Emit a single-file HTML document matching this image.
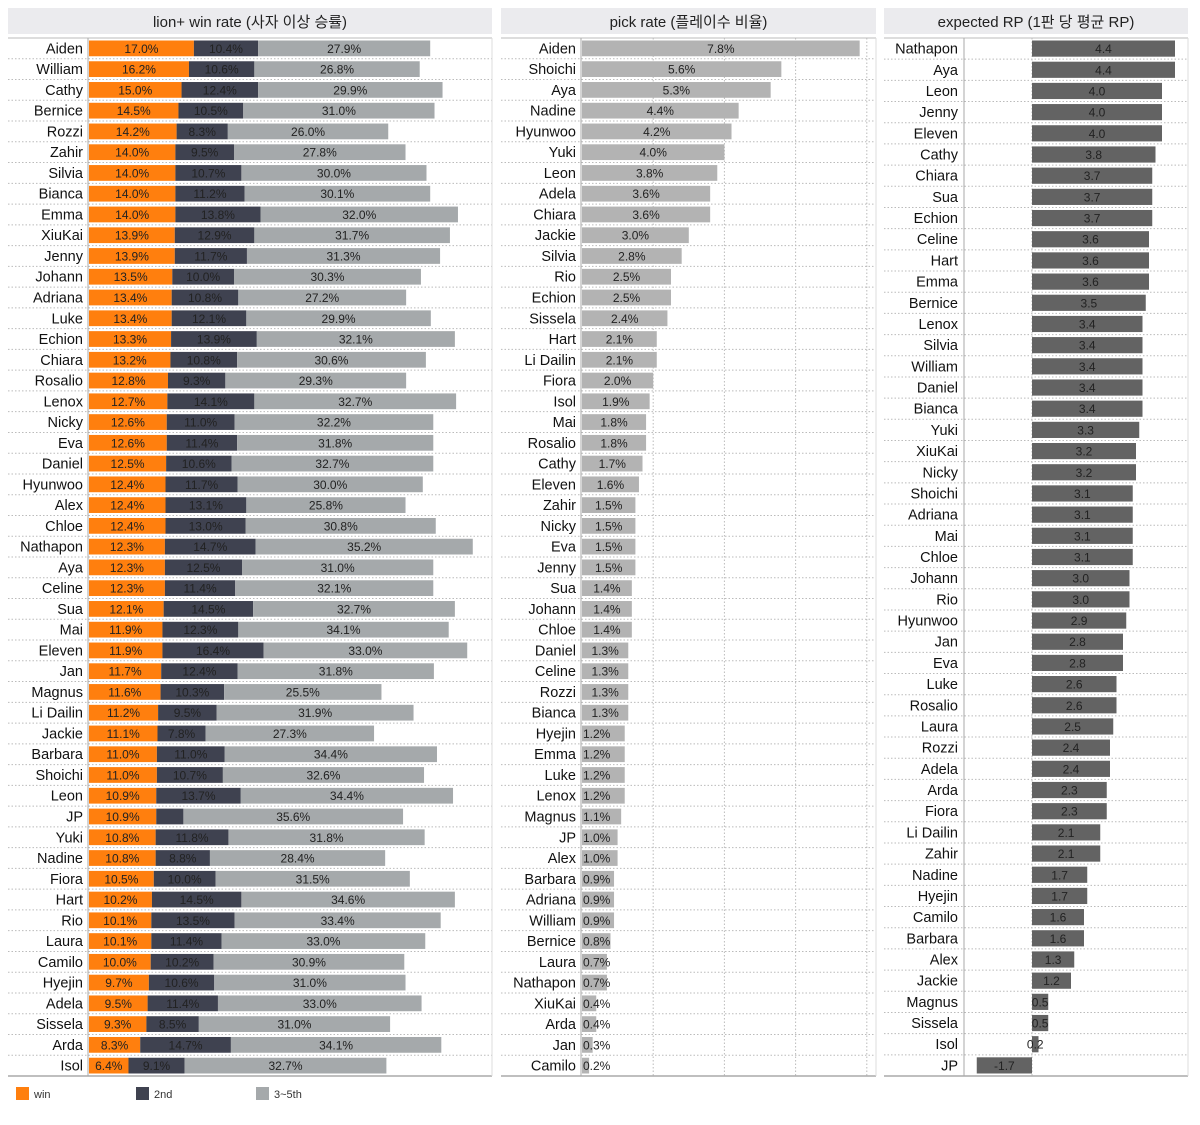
<!DOCTYPE html>
<html><head><meta charset="utf-8"><style>
body{margin:0;background:#fff;}
svg text{font-family:"Liberation Sans","Noto Sans CJK KR",sans-serif;}
</style></head><body>
<svg id="c" width="1200" height="1120" xmlns="http://www.w3.org/2000/svg"></svg>
<script>
const names1=["Aiden","William","Cathy","Bernice","Rozzi","Zahir","Silvia","Bianca","Emma","XiuKai","Jenny","Johann","Adriana","Luke","Echion","Chiara","Rosalio","Lenox","Nicky","Eva","Daniel","Hyunwoo","Alex","Chloe","Nathapon","Aya","Celine","Sua","Mai","Eleven","Jan","Magnus","Li Dailin","Jackie","Barbara","Shoichi","Leon","JP","Yuki","Nadine","Fiora","Hart","Rio","Laura","Camilo","Hyejin","Adela","Sissela","Arda","Isol"];
const winVals=[17.0,16.2,15.0,14.5,14.2,14.0,14.0,14.0,14.0,13.9,13.9,13.5,13.4,13.4,13.3,13.2,12.8,12.7,12.6,12.6,12.5,12.4,12.4,12.4,12.3,12.3,12.3,12.1,11.9,11.9,11.7,11.6,11.2,11.1,11.0,11.0,10.9,10.9,10.8,10.8,10.5,10.2,10.1,10.1,10.0,9.7,9.5,9.3,8.3,6.4];
const secondVals=[10.4,10.6,12.4,10.5,8.3,9.5,10.7,11.2,13.8,12.9,11.7,10.0,10.8,12.1,13.9,10.8,9.3,14.1,11.0,11.4,10.6,11.7,13.1,13.0,14.7,12.5,11.4,14.5,12.3,16.4,12.4,10.3,9.5,7.8,11.0,10.7,13.7,4.4,11.8,8.8,10.0,14.5,13.5,11.4,10.2,10.6,11.4,8.5,14.7,9.1];
const topVals=[27.9,26.8,29.9,31.0,26.0,27.8,30.0,30.1,32.0,31.7,31.3,30.3,27.2,29.9,32.1,30.6,29.3,32.7,32.2,31.8,32.7,30.0,25.8,30.8,35.2,31.0,32.1,32.7,34.1,33.0,31.8,25.5,31.9,27.3,34.4,32.6,34.4,35.6,31.8,28.4,31.5,34.6,33.4,33.0,30.9,31.0,33.0,31.0,34.1,32.7];
const names2=["Aiden","Shoichi","Aya","Nadine","Hyunwoo","Yuki","Leon","Adela","Chiara","Jackie","Silvia","Rio","Echion","Sissela","Hart","Li Dailin","Fiora","Isol","Mai","Rosalio","Cathy","Eleven","Zahir","Nicky","Eva","Jenny","Sua","Johann","Chloe","Daniel","Celine","Rozzi","Bianca","Hyejin","Emma","Luke","Lenox","Magnus","JP","Alex","Barbara","Adriana","William","Bernice","Laura","Nathapon","XiuKai","Arda","Jan","Camilo"];
const pickVals=[7.8,5.6,5.3,4.4,4.2,4.0,3.8,3.6,3.6,3.0,2.8,2.5,2.5,2.4,2.1,2.1,2.0,1.9,1.8,1.8,1.7,1.6,1.5,1.5,1.5,1.5,1.4,1.4,1.4,1.3,1.3,1.3,1.3,1.2,1.2,1.2,1.2,1.1,1.0,1.0,0.9,0.9,0.9,0.8,0.7,0.7,0.4,0.4,0.3,0.2];
const pickTicks=[2,4,6,8];
const names3=["Nathapon","Aya","Leon","Jenny","Eleven","Cathy","Chiara","Sua","Echion","Celine","Hart","Emma","Bernice","Lenox","Silvia","William","Daniel","Bianca","Yuki","XiuKai","Nicky","Shoichi","Adriana","Mai","Chloe","Johann","Rio","Hyunwoo","Jan","Eva","Luke","Rosalio","Laura","Rozzi","Adela","Arda","Fiora","Li Dailin","Zahir","Nadine","Hyejin","Camilo","Barbara","Alex","Jackie","Magnus","Sissela","Isol","JP"];
const rpVals=[4.4,4.4,4.0,4.0,4.0,3.8,3.7,3.7,3.7,3.6,3.6,3.6,3.5,3.4,3.4,3.4,3.4,3.4,3.3,3.2,3.2,3.1,3.1,3.1,3.1,3.0,3.0,2.9,2.8,2.8,2.6,2.6,2.5,2.4,2.4,2.3,2.3,2.1,2.1,1.7,1.7,1.6,1.6,1.3,1.2,0.5,0.5,0.2,-1.7];

const svg=document.getElementById('c');const NS='http://www.w3.org/2000/svg';
function mk(t,a,p){const e=document.createElementNS(NS,t);for(const k in a)e.setAttribute(k,a[k]);(p||svg).appendChild(e);return e;}
const top0=38,bottom0=1076;
function panel(x0,x1,axisX,title,name,n){
  const g=mk('g',{});
  
  
  const h=mk('rect',{x:x0,y:8,width:x1-x0,height:26,fill:'#ebebee'},g);
  const t=mk('text',{x:(x0+x1)/2,y:27,'text-anchor':'middle','font-size':15,fill:'#222'},g);t.textContent=title;
  
  
  const rh=(bottom0-top0)/n;
  for(let i=1;i<n;i++)mk('line',{x1:x0,x2:x1,y1:top0+i*rh,y2:top0+i*rh,stroke:'#bbb','stroke-dasharray':'1.5,2'},g);
  mk('line',{x1:x0,x2:x1,y1:top0,y2:top0,stroke:'#bbb'},g);
  mk('line',{x1:x0,x2:x1,y1:bottom0,y2:bottom0,stroke:'#aaa','stroke-width':1.5},g);
  mk('line',{x1:axisX,x2:axisX,y1:top0,y2:bottom0,stroke:'#aaa'},g);
  mk('line',{x1:x1,x2:x1,y1:top0,y2:bottom0,stroke:'#ddd'},g);
  return {g,rh};
}
function rowY(i,rh){return top0+i*rh;}
function label(g,x,y,txt,anchor,size,fill){const e=mk('text',{x:x,y:y,'text-anchor':anchor,'font-size':size,fill:fill||'#111'},g);e.textContent=txt;return e;}

// Panel 1
const x1s=v=>89+v*6.17;
let P=panel(8,492,88,'lion+ win rate (사자 이상 승률)','win-rate-panel',names1.length);
names1.forEach((nm,i)=>{
  const y=rowY(i,P.rh),cy=y+P.rh/2;
  const l=label(P.g,83,cy+5,nm,'end',14.5);
  
  
  const segs=[[winVals[i],'#ff7f0e'],[secondVals[i],'#3f4250'],[topVals[i],'#a5a9ab']];
  let acc=0;
  segs.forEach((s,j)=>{
    const r=mk('rect',{x:x1s(acc),y:y+2.5,width:s[0]*6.17,height:P.rh-5,fill:s[1]},P.g);
    
    
    if(!(j==1&&s[0]<5))label(P.g,x1s(acc+s[0]/2),cy+4.5,s[0].toFixed(1)+'%','middle',12,'#222');
    acc+=s[0];
  });
});
// Panel 2
const x2s=v=>582+v*35.6;
P=panel(501,876,581,'pick rate (플레이수 비율)','pick-rate-panel',names2.length);
pickTicks.forEach(t=>mk('line',{x1:x2s(t),x2:x2s(t),y1:top0,y2:bottom0,stroke:'#bbb','stroke-dasharray':'1.5,2'},P.g));
names2.forEach((nm,i)=>{
  const y=rowY(i,P.rh),cy=y+P.rh/2;
  const l=label(P.g,576,cy+5,nm,'end',14.5);
  
  
  const w=pickVals[i]*35.6;
  const r=mk('rect',{x:582,y:y+2.5,width:w,height:P.rh-5,fill:'#b3b3b3'},P.g);
  
  
  const txt=pickVals[i].toFixed(1)+'%';
  if(w>45)label(P.g,582+w/2,cy+4.5,txt,'middle',12,'#222');else label(P.g,583,cy+4.5,txt,'start',12,'#222');
});
// Panel 3
const x3s=v=>1032+v*32.5;
P=panel(884,1188,964,'expected RP (1판 당 평균 RP)','expected-rp-panel',names3.length);
mk('line',{x1:x3s(0),x2:x3s(0),y1:top0,y2:bottom0,stroke:'#bbb','stroke-dasharray':'1.5,2'},P.g);
names3.forEach((nm,i)=>{
  const y=rowY(i,P.rh),cy=y+P.rh/2;
  const l=label(P.g,958,cy+5,nm,'end',14.5);
  
  
  const v=rpVals[i];
  const r=mk('rect',{x:Math.min(x3s(0),x3s(v)),y:y+2.5,width:Math.abs(v)*32.5,height:P.rh-5,fill:'#636363'},P.g);
  
  
  label(P.g,(x3s(0)+x3s(v))/2,cy+4.5,v.toFixed(1),'middle',12,'#222');
});
// Legend
const legend=[['win','#ff7f0e',16],['2nd','#3f4250',136],['3~5th','#a5a9ab',256]];
legend.forEach(l=>{
  const g=mk('g',{});
  
  
  mk('rect',{x:l[2],y:1087,width:13,height:13,fill:l[1]},g);
  label(g,l[2]+18,1098,l[0],'start',11,'#333');
});
</script>
</body></html>
